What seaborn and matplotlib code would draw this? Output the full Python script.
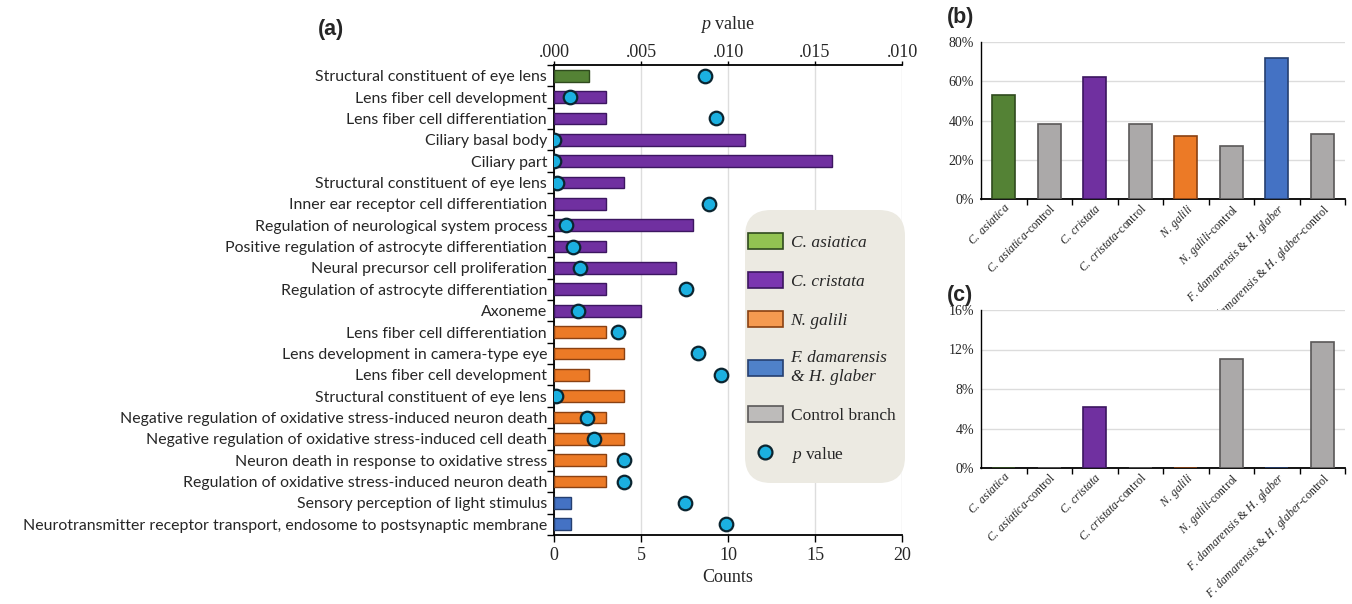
import numpy as np
import pandas as pd
import matplotlib
matplotlib.use("Agg")
import matplotlib.pyplot as plt
import seaborn as sns
from matplotlib.patches import Patch, FancyBboxPatch
from matplotlib.lines import Line2D
from matplotlib.ticker import FixedLocator, FuncFormatter

# ---------------- data ----------------
terms = [
    "Structural constituent of eye lens",
    "Lens fiber cell development",
    "Lens fiber cell differentiation",
    "Ciliary basal body",
    "Ciliary part",
    "Structural constituent of eye lens",
    "Inner ear receptor cell differentiation",
    "Regulation of neurological system process",
    "Positive regulation of astrocyte differentiation",
    "Neural precursor cell proliferation",
    "Regulation of astrocyte differentiation",
    "Axoneme",
    "Lens fiber cell differentiation",
    "Lens development in camera-type eye",
    "Lens fiber cell development",
    "Structural constituent of eye lens",
    "Negative regulation of oxidative stress-induced neuron death",
    "Negative regulation of oxidative stress-induced cell death",
    "Neuron death in response to oxidative stress",
    "Regulation of oxidative stress-induced neuron death",
    "Sensory perception of light stimulus",
    "Neurotransmitter receptor transport, endosome to postsynaptic membrane",
]
counts = [2, 3, 3, 11, 16, 4, 3, 8, 3, 7, 3, 5, 3, 4, 2, 4, 3, 4, 3, 3, 1, 1]
p_values = [0.0087, 0.0009, 0.0093, 0.0000, 0.0000, 0.0002, 0.0089, 0.0007,
            0.0011, 0.0015, 0.0076, 0.0014, 0.0037, 0.0083, 0.0096, 0.0001,
            0.0019, 0.0023, 0.0040, 0.0040, 0.0075, 0.0099]
groups = (["C. asiatica"] * 1 + ["C. cristata"] * 11 + ["N. galili"] * 8
          + ["F. damarensis & H. glaber"] * 2)

branches = ["C. asiatica", "C. asiatica-control", "C. cristata", "C. cristata-control",
            "N. galili", "N. galili-control", "F. damarensis & H. glaber",
            "F. damarensis & H. glaber-control"]
share_b = [53, 38, 62, 38, 32, 27, 72, 33]
share_c = [0, 0, 6.2, 0, 0, 11, 0, 12.8]

p_ticks = [0.0, 0.005, 0.010, 0.015, 0.020]
p_tick_labels = [".000", ".005", ".010", ".015", ".010"]

# ---------------- styling ----------------
sns.set_theme(style="white")
plt.rcParams["font.family"] = ["Liberation Serif", "DejaVu Serif"]
plt.rcParams["mathtext.fontset"] = "custom"
plt.rcParams["mathtext.rm"] = "Liberation Serif"
plt.rcParams["mathtext.it"] = "Liberation Serif:italic"

bar_colors = {
    "C. asiatica": "#548235",
    "C. cristata": "#7030A0",
    "N. galili": "#EC7A26",
    "F. damarensis & H. glaber": "#4472C4",
    "Control branch": "#ABA9A9",
}
legend_colors = {
    "C. asiatica": "#92C352",
    "C. cristata": "#7B35B0",
    "N. galili": "#F59A50",
    "F. damarensis & H. glaber": "#4F81C9",
    "Control branch": "#BDBBBA",
}
edge_dark = {
    "C. asiatica": "#2F4A1E",
    "C. cristata": "#3C1660",
    "N. galili": "#8A4112",
    "F. damarensis & H. glaber": "#253F70",
    "Control branch": "#5A5858",
}
dot_color = "#1BB0E0"

W, H = 1352, 604
fig = plt.figure(figsize=(W / 100, H / 100), dpi=100)

def fbox(left, top, right, bottom):
    return [left / W, 1 - bottom / H, (right - left) / W, (bottom - top) / H]

def ital(text):
    """Italic species name as mathtext, keeping '&' upright."""
    parts = [p.strip() for p in text.split("&")]
    pieces = ["$\\mathit{" + p.replace(" ", "\\:") + "}$" for p in parts]
    return " & ".join(pieces)

# ---------------- panel (a) ----------------
ax = fig.add_axes(fbox(554, 65, 902, 535))
rows = list(range(len(terms)))
df = pd.DataFrame({"row": rows, "count": counts, "group": groups, "p": p_values})

sns.barplot(data=df, x="count", y="row", hue="group", orient="h", dodge=False,
            palette=bar_colors, saturation=1, width=0.55, legend=False, ax=ax, zorder=3)
# darker outlines give the bars a bevelled look
for patch in ax.patches:
    fc = np.array(patch.get_facecolor()[:3])
    key = min(bar_colors, key=lambda k: np.sum(
        (np.array(matplotlib.colors.to_rgb(bar_colors[k])) - fc) ** 2))
    patch.set_edgecolor(edge_dark[key])
    patch.set_linewidth(1.0)

ax.set_xlim(0, 20)
ax.set_ylim(len(terms) - 0.5, -0.5)
ax.set_xticks([0, 5, 10, 15, 20])
ax.xaxis.grid(True, color="#DDDDDD", linewidth=1.0, zorder=0)
ax.set_axisbelow(True)
ax.set_yticks(rows)
ax.set_yticklabels(terms, family=["Lato", "DejaVu Sans"], fontsize=11.4)
ax.yaxis.set_minor_locator(FixedLocator(np.arange(-0.5, len(terms), 1.0)))
ax.tick_params(axis="y", which="major", length=0, pad=5)
ax.tick_params(axis="y", which="minor", length=5, width=1, color="black", left=True)
ax.tick_params(axis="x", which="major", length=5, width=1, color="black",
               bottom=True, labelsize=13)
ax.set_xlabel("Counts", fontsize=13, labelpad=4)
ax.set_ylabel("")
for side in ["left", "bottom", "top"]:
    ax.spines[side].set_visible(True)
    ax.spines[side].set_color("black")
    ax.spines[side].set_linewidth(1.3)
ax.spines["right"].set_visible(False)

ax2 = ax.twiny()
sns.scatterplot(data=df, x="p", y="row", ax=ax2, s=95, color=dot_color,
                edgecolor="#0B2530", linewidth=1.6, zorder=5, legend=False)
ax2.set_xlim(0, 0.02)
ax2.set_ylim(len(terms) - 0.5, -0.5)
ax2.set_xticks(p_ticks)
ax2.set_xticklabels(p_tick_labels)
ax2.tick_params(axis="x", length=3, width=1, color="black", top=True, labelsize=13, pad=0)
ax2.set_xlabel("$p$ value", fontsize=13, labelpad=11)
ax2.set_ylabel("")
for side in ["left", "bottom", "right", "top"]:
    ax2.spines[side].set_visible(False)

# rounded beige panel behind the legend (drawn inside the axes, under the legend)
legend_bg = FancyBboxPatch((7.45, 6.04 - 4.83), 1.60, 2.73,
                           boxstyle="round,pad=0,rounding_size=0.26",
                           transform=fig.dpi_scale_trans, facecolor="#ECEAE2",
                           edgecolor="none", zorder=8, clip_on=False)
ax.add_artist(legend_bg)

handles = [Patch(facecolor=legend_colors[k], edgecolor=edge_dark[k], linewidth=1.2)
           for k in legend_colors]
handles.append(Line2D([], [], linestyle="", marker="o", markersize=10,
                      markerfacecolor=dot_color, markeredgecolor="#0B2530",
                      markeredgewidth=1.6))
labels = ["C. asiatica", "C. cristata", "N. galili", "F. damarensis\n& H. glaber",
          "Control branch", "$p$ value"]
leg = ax.legend(handles, labels, loc="upper left",
                bbox_to_anchor=(748 / W, 1 - 233 / H), bbox_transform=fig.transFigure,
                borderaxespad=0, frameon=False, fontsize=12.5,
                handlelength=2.0, handleheight=1.05, handletextpad=0.45,
                labelspacing=1.22, borderpad=0)
for txt in leg.get_texts()[:4]:
    txt.set_fontstyle("italic")
leg.set_zorder(10)

fig.text(331 / W, 1 - 29 / H, "(a)", fontsize=15.5, fontweight="bold",
         family=["Liberation Sans", "DejaVu Sans"], ha="center", va="center")

# ---------------- panels (b) and (c) ----------------
def branch_label(name):
    if name.endswith("-control"):
        return ital(name[:-len("-control")]) + "-control"
    return ital(name)

branch_keys = ["C. asiatica", "Control branch", "C. cristata", "Control branch",
               "N. galili", "Control branch", "F. damarensis & H. glaber", "Control branch"]
branch_colors = [bar_colors[k] for k in branch_keys]
branch_edges = [edge_dark[k] for k in branch_keys]

def branch_panel(rect, values, ymax, step, tag, tag_y):
    axp = fig.add_axes(rect)
    dfp = pd.DataFrame({"branch": branches, "value": values})
    sns.barplot(data=dfp, x="branch", y="value", hue="branch", order=branches,
                hue_order=branches, palette=branch_colors, saturation=1, width=0.5,
                legend=False, ax=axp, zorder=3)
    for patch, ec in zip(axp.patches, branch_edges):
        patch.set_edgecolor(ec)
        patch.set_linewidth(1.2)
    axp.set_xlim(-0.5, len(branches) - 0.5)
    axp.set_ylim(0, ymax)
    axp.set_yticks(np.arange(0, ymax + 0.01, step))
    axp.yaxis.set_major_formatter(FuncFormatter(lambda v, _: f"{v:.0f}%"))
    axp.yaxis.grid(True, color="#DCDCDC", linewidth=1.0)
    axp.set_axisbelow(True)
    axp.set_xticks(range(len(branches)))
    axp.set_xticklabels([branch_label(b) for b in branches], rotation=45,
                        ha="right", rotation_mode="anchor", fontsize=8.6)
    axp.xaxis.set_minor_locator(FixedLocator(np.arange(0.5, len(branches), 1.0)))
    axp.tick_params(axis="x", which="major", length=0, pad=2)
    axp.tick_params(axis="x", which="minor", length=4, width=1, color="black", bottom=True)
    axp.tick_params(axis="y", labelsize=10, length=0, pad=5)
    axp.set_xlabel("")
    axp.set_ylabel("")
    axp.spines["top"].set_visible(False)
    axp.spines["right"].set_visible(False)
    axp.spines["left"].set_color("black")
    axp.spines["bottom"].set_color("black")
    axp.spines["left"].set_linewidth(1.0)
    axp.spines["bottom"].set_linewidth(1.3)
    fig.text(947 / W, 1 - tag_y / H, tag, fontsize=15.5, fontweight="bold",
             family=["Liberation Sans", "DejaVu Sans"], ha="left", va="center")
    return axp

branch_panel(fbox(981, 42, 1345, 199), share_b, 80, 20, "(b)", 17)
branch_panel(fbox(981, 310, 1345, 468), share_c, 16, 4, "(c)", 295)

fig.savefig("out.png", dpi=100, facecolor="white")
